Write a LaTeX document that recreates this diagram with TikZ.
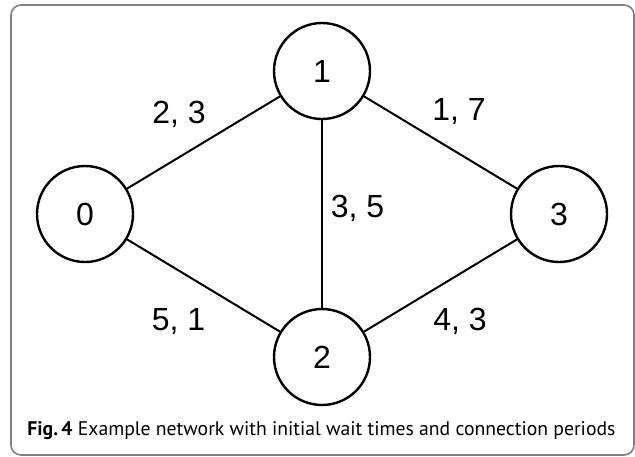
\documentclass[tikz,border=0pt]{standalone}
\usepackage{fontspec}
\setmainfont{Liberation Sans}
\newfontfamily\capfont{PT Sans}
\tikzset{
  vertex/.style={circle,draw,line width=1.2pt,minimum size=48pt,inner sep=0pt,font=\fontsize{16}{18}\selectfont},
  link/.style={line width=1pt},
  weight/.style={anchor=base,inner sep=0pt,font=\fontsize{16}{18}\selectfont}
}
\begin{document}
\begin{tikzpicture}[x=0.5pt,y=-0.5pt]
\useasboundingbox (0,0) rectangle (635,456);
\draw[gray,line width=0.8pt,rounded corners=5pt] (11,5) rectangle (634,455);
%
\node[vertex] (n0) at (85,214) {0};
\node[vertex] (n1) at (322,71) {1};
\node[vertex] (n2) at (322,357) {2};
\node[vertex] (n3) at (559,214) {3};
%
\draw[link] (n0) -- (n1);
\draw[link] (n1) -- (n3);
\draw[link] (n1) -- (n2);
\draw[link] (n0) -- (n2);
\draw[link] (n2) -- (n3);
%
\node[weight] (w01) at (179,123) {2, 3};
\node[weight] (w13) at (459,120) {1, 7};
\node[weight] (w12) at (357.5,217) {3, 5};
\node[weight] (w02) at (178.5,330) {5, 1};
\node[weight] (w23) at (460,330) {4, 3};
%
\node[anchor=base west,inner sep=0pt,font=\capfont\fontsize{9.85}{11}\selectfont] (cap) at (27,435)
  {\textbf{Fig.\,4} Example network with initial wait times and connection periods};
\end{tikzpicture}
\end{document}
